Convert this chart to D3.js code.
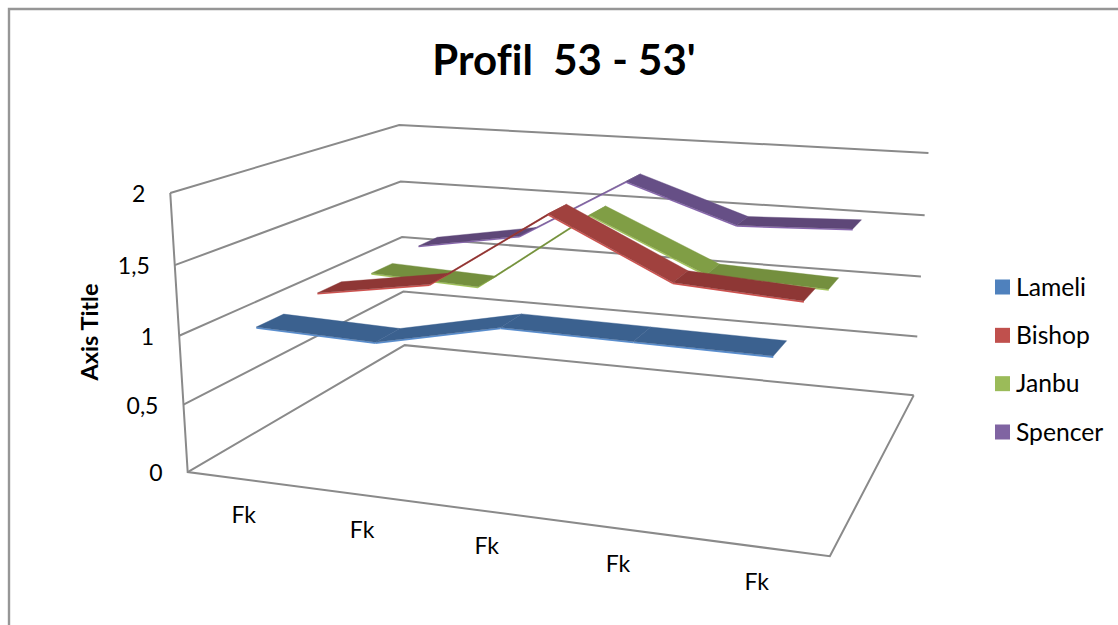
<!DOCTYPE html>
<html><head><meta charset="utf-8">
<script src="https://cdnjs.cloudflare.com/ajax/libs/d3/7.8.5/d3.min.js"></script>
<style>html,body{margin:0;padding:0;background:#fff}svg{display:block}text{font-family:Lato,"Open Sans",sans-serif;fill:#000;font-variant-ligatures:none}</style>
</head><body><svg id="chart" width="1118" height="625"></svg>
<script>
const categories = ["Fk", "Fk", "Fk", "Fk", "Fk"];
const seriesNames = ["Lameli", "Bishop", "Janbu", "Spencer"];
const lameli  = [1.04, 1.015, 1.20, 1.19, 1.18];
const bishop  = [1.08, 1.22, 1.80, 1.38, 1.325];
const janbu   = [1.036, 1.00, 1.63, 1.24, 1.205];
const spencer = [1.08, 1.23, 1.74, 1.445, 1.48];
const seriesValues = [lameli, bishop, janbu, spencer];
const valueTicks = [0, 0.5, 1, 1.5, 2];
const tickLabels = ["0", "0,5", "1", "1,5", "2"];
const titleText = "Profil  53 - 53'";
const axisTitle = "Axis Title";

const faceLight = ["#3f6797", "#a0413e", "#809e45", "#664f86"];
const faceDark  = ["#3b618f", "#8e3735", "#748f3e", "#5e4778"];
const edgeColor = ["#5b8fcf", "#cf5350", "#a4c65c", "#8a68b0"];
const legendColor = ["#4f81bd", "#c0504d", "#9bbb59", "#8064a2"];

// Box corners of the plot cuboid (u along categories, v up, w into depth) and where they land.
const anchors = [
  [0,0,0,187,472],[1,0,0,830,556],[0,0,1,405,345],[1,0,1,913,396],
  [0,1,0,170,193],[0,1,1,399,125],[1,1,1,928,153],
  [0,.5,0,180,336],[0,.5,1,402,237],[1,.5,1,922,276]
];

// Least-squares fit of a 3x4 projective camera through the anchors.
function fitCamera(pts){
  const A=[],b=[];
  pts.forEach(([u,v,w,x,y])=>{
    A.push([u,v,w,1,0,0,0,0,-x*u,-x*v,-x*w]);b.push(x);
    A.push([0,0,0,0,u,v,w,1,-y*u,-y*v,-y*w]);b.push(y);
  });
  const n=11,M=d3.range(n).map(i=>d3.range(n+1).map(j=>
    j<n?d3.sum(A,r=>r[i]*r[j]):d3.sum(A,(r,k)=>r[i]*b[k])));
  for(let c=0;c<n;c++){
    let p=c;for(let r=c+1;r<n;r++)if(Math.abs(M[r][c])>Math.abs(M[p][c]))p=r;
    [M[c],M[p]]=[M[p],M[c]];
    for(let r=0;r<n;r++)if(r!==c){const f=M[r][c]/M[c][c];for(let j=c;j<=n;j++)M[r][j]-=f*M[c][j];}
  }
  return M.map((r,i)=>r[n]/r[i]);
}
const h=fitCamera(anchors);
function project(u,v,w){
  const d=h[8]*u+h[9]*v+h[10]*w+1;
  return [(h[0]*u+h[1]*v+h[2]*w+h[3])/d,(h[4]*u+h[5]*v+h[6]*w+h[7])/d];
}

const xScale=d3.scaleBand().domain(d3.range(categories.length)).range([0,1]);
const yScale=d3.scaleLinear().domain([0,2]).range([0,1]);
const zBand=d3.scaleBand().domain(d3.range(seriesNames.length)).range([0,1]).paddingInner(.57).paddingOuter(.285);

const svg=d3.select("#chart");
const line=d3.line();
const gridColor="#8a8a8a";

// Outer chart frame
svg.append("path").attr("d","M9,625V9H1118").attr("fill","none").attr("stroke","#969696").attr("stroke-width",2.4);

// Walls and floor
const grid=svg.append("g").attr("fill","none").attr("stroke",gridColor).attr("stroke-width",2);
valueTicks.forEach(t=>{
  const v=yScale(t);
  grid.append("path").attr("d",line([project(0,v,0),project(0,v,1),project(1,v,1)]));
});
grid.append("path").attr("d",line([project(0,1,0),project(0,0,0),project(1,0,0),project(1,0,1)]));

// Ribbons, far series first
d3.range(seriesNames.length).reverse().forEach(s=>{
  const g=svg.append("g");
  const w0=zBand(s),w1=w0+zBand.bandwidth();
  const vals=seriesValues[s];
  const uAt=i=>xScale(i)+xScale.bandwidth()/2;
  d3.range(vals.length-1).forEach(i=>{
    const a=[uAt(i),yScale(vals[i])],b=[uAt(i+1),yScale(vals[i+1])];
    const drop=vals[i]-vals[i+1];
    const fill=drop>.1?faceLight[s]:faceDark[s];
    const edge=[project(a[0],a[1],w0),project(b[0],b[1],w0),
      project(b[0],b[1]-.006,w0),project(a[0],a[1]-.006,w0)];
    g.append("path").attr("d",line(edge)+"Z").attr("fill",edgeColor[s]);
    g.append("path").attr("d",line([project(a[0],a[1],w0),project(b[0],b[1],w0),project(b[0],b[1],w1),project(a[0],a[1],w1)])+"Z")
      .attr("fill",fill).attr("stroke",fill).attr("stroke-width",.4);
  });
});

// Title
svg.append("text").attr("x",564).attr("y",75).attr("text-anchor","middle").attr("font-size",42).attr("font-weight",700)
  .attr("xml:space","preserve").style("white-space","pre").text(titleText);

// Value axis labels
valueTicks.forEach((t,i)=>{
  const p=project(0,yScale(t),0);
  svg.append("text").attr("x",p[0]-25).attr("y",p[1]+1).attr("dy","0.35em").attr("text-anchor","end").attr("font-size",23).text(tickLabels[i]);
});
svg.append("text").attr("transform","translate(98,332) rotate(-90)").attr("text-anchor","middle").attr("font-size",23.5).attr("font-weight",700).text(axisTitle);

// Category labels below the front edge
categories.forEach((c,i)=>{
  const p=project(xScale(i)+xScale.bandwidth()/2,0,0);
  svg.append("text").attr("x",p[0]-1).attr("y",p[1]+35).attr("dy","0.35em").attr("text-anchor","middle").attr("font-size",23).text(c);
});

// Legend
const legendY=d3.scalePoint().domain(seriesNames).range([287,432]);
seriesNames.forEach((n,i)=>{
  svg.append("rect").attr("x",995).attr("y",legendY(n)-7.5).attr("width",15).attr("height",15).attr("fill",legendColor[i]);
  svg.append("text").attr("x",1016).attr("y",legendY(n)).attr("dy","0.35em").attr("font-size",24.7).text(n);
});
</script></body></html>
